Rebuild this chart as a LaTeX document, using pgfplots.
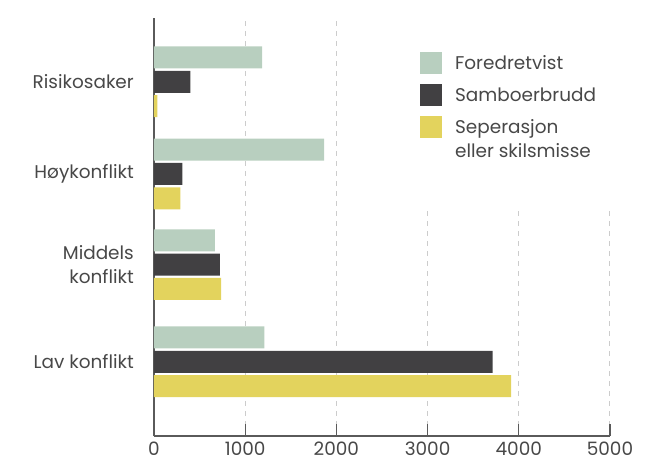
\documentclass[border=0pt]{standalone}
\usepackage{pgfplots}
\pgfplotsset{compat=1.18}
\usepackage{fontspec}
\setmainfont{Poppins}
\definecolor{cfored}{HTML}{B8CFBF}
\definecolor{cdark}{HTML}{414042}
\definecolor{cyell}{HTML}{E3D35D}
\definecolor{ctext}{HTML}{484848}
\definecolor{caxis}{HTML}{5A5A5A}
\definecolor{cgrid}{HTML}{CCCCCC}
\pgfplotsset{sq/.style={legend image code/.code={\fill[##1] (0bp,-4.5bp) rectangle (22bp,17.5bp);}},
  sqtwo/.style={legend image code/.code={\fill[##1] (0bp,19bp) rectangle (22bp,41bp);}}}
\begin{document}
\begin{tikzpicture}
\path[use as bounding box] (-154bp,-27bp) rectangle (504bp,436bp);
\begin{axis}[
 at={(0,0)}, anchor=south west,
 scale only axis, width=456bp, height=418bp,
 xmin=0, xmax=5000, ymin=0, ymax=418,
 xtick={0,1000,...,5000},
 ytick={74.2,171.3,262,354.2},
 yticklabels={Lav konflikt,{Middels\\konflikt},Høykonflikt,Risikosaker},
 axis x line=bottom, axis y line=left,
 axis line style={-, draw=caxis, line width=1.3bp},
 x tick style={draw=caxis, line width=1.3bp},
 tick align=inside, major tick length=12bp,
 y tick style={draw=none},
 xmajorgrids, grid style={draw=cgrid, line width=1bp, dash pattern=on 5bp off 5bp},
 xbar, bar width=22,
 /pgf/number format/assume math mode=true,
 /pgf/number format/1000 sep={},
 ticklabel style={font=\fontsize{18.5}{23.5}\selectfont, text=ctext, inner sep=0pt},
 x tick label style={yshift=-6bp},
 y tick label style={xshift=-8bp, align=right},
 legend style={at={(axis cs:2697,430)}, anchor=north west, draw=none, fill=white,
   inner xsep=20bp, inner ysep=46bp, row sep=10bp, column sep=11bp,
   font=\fontsize{18.5}{23.5}\selectfont, text=ctext,
   cells={anchor=base west, align=left, inner sep=0pt}},
]
\addplot[sq, fill=cfored, draw=none, bar shift=24.3] coordinates {(1210,74.2) (668,171.3) (1866,262) (1186,354.2)};
\addlegendentry{Foredretvist}
\addplot[sq, fill=cdark, draw=none, bar shift=0] coordinates {(3714,74.2) (723,171.3) (310,262) (398,354.2)};
\addlegendentry{Samboerbrudd}
\addplot[sqtwo, fill=cyell, draw=none, bar shift=-24.3] coordinates {(3915,74.2) (737,171.3) (288,262) (36,354.2)};
\addlegendentry{Seperasjon\\eller skilsmisse}
\end{axis}
\end{tikzpicture}
\end{document}
